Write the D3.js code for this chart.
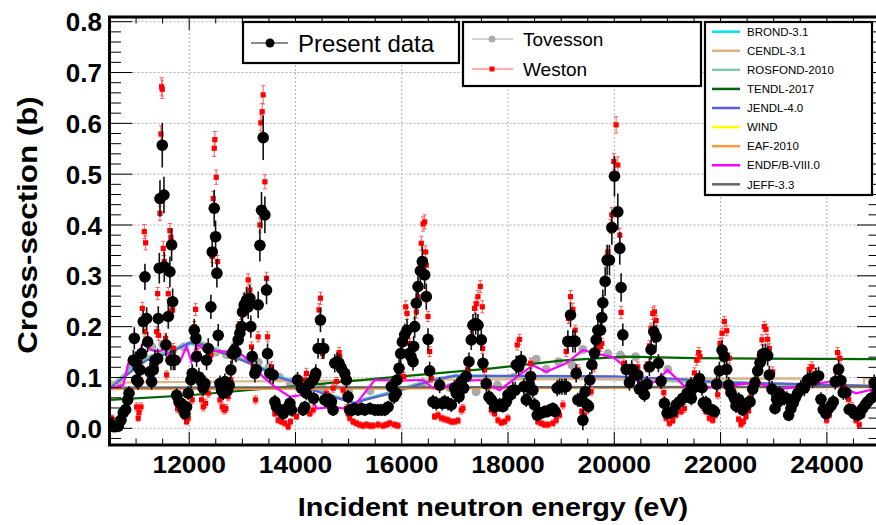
<!DOCTYPE html>
<html>
<head>
<meta charset="UTF-8">
<script src="https://d3js.org/d3.v7.min.js"></script>
<style>
  body { margin: 0; background: #fff; }
  svg text { font-family: "Liberation Sans", Arial, Helvetica, sans-serif; }
</style>
</head>
<body>
<svg id="chart" width="876" height="525"></svg>
<script>
// ---- data ----
// present data: [energy (eV), cross-section (b), error]
const presentData = [
  [10510,0.010,0.010],[10590,0.003,0.010],[10666,0.004,0.012],[10716,0.016,0.010],[10760,0.031,0.012],
  [10804,0.037,0.012],[10842,0.056,0.014],[10867,0.069,0.014],[10948,0.134,0.020],[10967,0.177,0.022],
  [10985,0.131,0.020],[11010,0.095,0.016],[11040,0.092,0.016],[11073,0.115,0.018],[11105,0.147,0.020],
  [11136,0.210,0.022],[11167,0.298,0.026],[11199,0.216,0.022],[11218,0.170,0.020],[11261,0.111,0.018],
  [11293,0.092,0.016],[11324,0.115,0.018],[11355,0.134,0.020],[11406,0.137,0.020],[11418,0.216,0.024],
  [11437,0.315,0.030],[11450,0.452,0.036],[11493,0.557,0.044],[11525,0.459,0.036],[11531,0.318,0.030],
  [11562,0.164,0.022],[11606,0.220,0.024],[11637,0.308,0.030],[11669,0.361,0.032],[11688,0.249,0.026],
  [11656,0.134,0.020],[11700,0.134,0.020],[11731,0.134,0.020],[11763,0.065,0.014],[11807,0.052,0.014],
  [11845,0.049,0.014],[11888,0.039,0.012],[11920,0.029,0.012],[11951,0.042,0.012],[11982,0.069,0.014],
  [12032,0.095,0.016],[12057,0.108,0.018],[12095,0.193,0.022],[12126,0.177,0.022],[12139,0.141,0.020],
  [12183,0.101,0.018],[12233,0.092,0.016],[12264,0.079,0.016],[12296,0.088,0.016],[12327,0.134,0.020],
  [12358,0.157,0.020],[12408,0.239,0.024],[12433,0.347,0.030],[12471,0.433,0.036],[12496,0.377,0.032],
  [12521,0.305,0.028],[12546,0.183,0.022],[12578,0.088,0.016],[12609,0.075,0.016],[12640,0.069,0.014],
  [12672,0.092,0.016],[12722,0.075,0.016],[12753,0.085,0.016],[12784,0.115,0.018],[12809,0.147,0.020],
  [12847,0.154,0.020],[12880,0.150,0.020],[12922,0.174,0.020],[12953,0.187,0.022],[12985,0.200,0.022],
  [13004,0.229,0.024],[13035,0.243,0.024],[13079,0.252,0.026],[13110,0.239,0.024],[13141,0.256,0.026],
  [13160,0.200,0.022],[13185,0.141,0.020],[13236,0.108,0.018],[13265,0.115,0.018],[13298,0.243,0.026],
  [13330,0.360,0.032],[13361,0.429,0.036],[13392,0.572,0.044],[13424,0.420,0.036],[13455,0.272,0.028],
  [13474,0.147,0.020],[13518,0.108,0.018],[13580,0.105,0.018],[13612,0.052,0.014],[13643,0.042,0.014],
  [13705,0.036,0.012],[13768,0.029,0.012],[13831,0.039,0.012],[13894,0.049,0.014],[13925,0.036,0.012],
  [14038,0.095,0.016],[14112,0.079,0.016],[14143,0.036,0.012],[14175,0.042,0.012],[14206,0.069,0.014],
  [14269,0.088,0.016],[14332,0.095,0.016],[14363,0.102,0.018],[14340,0.059,0.014],[14382,0.108,0.018],
  [14426,0.157,0.020],[14470,0.213,0.024],[14507,0.157,0.020],[14532,0.157,0.020],[14551,0.056,0.014],
  [14582,0.056,0.014],[14614,0.052,0.014],[14645,0.056,0.014],[14676,0.052,0.014],[14708,0.036,0.012],
  [14739,0.128,0.018],[14783,0.131,0.018],[14821,0.128,0.018],[14864,0.118,0.018],[14927,0.108,0.018],
  [14958,0.095,0.016],[14990,0.062,0.014],[15021,0.036,0.012],[15071,0.036,0.012],[15115,0.039,0.012],
  [15178,0.036,0.012],[15240,0.039,0.012],[15303,0.036,0.012],[15397,0.039,0.012],[15491,0.036,0.012],
  [15554,0.036,0.012],[15616,0.036,0.012],[15679,0.036,0.012],[15742,0.042,0.012],[15804,0.082,0.016],
  [15855,0.062,0.014],[15898,0.069,0.014],[15911,0.095,0.016],[15949,0.118,0.018],[15980,0.147,0.020],
  [16011,0.170,0.020],[16055,0.184,0.022],[16099,0.193,0.022],[16137,0.147,0.020],[16174,0.141,0.020],
  [16212,0.131,0.018],[16224,0.161,0.020],[16243,0.200,0.022],[16274,0.246,0.024],[16306,0.279,0.026],
  [16350,0.310,0.028],[16387,0.328,0.030],[16431,0.302,0.028],[16462,0.259,0.026],[16494,0.175,0.022],
  [16525,0.113,0.018],[16588,0.052,0.014],[16650,0.049,0.014],[16713,0.085,0.016],[16763,0.049,0.014],
  [16807,0.052,0.014],[16870,0.049,0.014],[16932,0.046,0.014],[16995,0.079,0.016],[17026,0.069,0.014],
  [17077,0.062,0.014],[17120,0.092,0.016],[17164,0.079,0.016],[17214,0.102,0.018],[17264,0.131,0.018],
  [17308,0.174,0.020],[17340,0.203,0.022],[17390,0.206,0.022],[17434,0.203,0.022],[17497,0.174,0.020],
  [17528,0.128,0.018],[17590,0.088,0.016],[17641,0.062,0.014],[17685,0.056,0.014],[17747,0.042,0.012],
  [17778,0.046,0.014],[17841,0.046,0.014],[17904,0.043,0.012],[17966,0.052,0.014],[17998,0.066,0.014],
  [18048,0.066,0.014],[18092,0.075,0.016],[18135,0.075,0.016],[18154,0.125,0.018],[18198,0.121,0.018],
  [18248,0.134,0.018],[18298,0.082,0.016],[18343,0.056,0.014],[18374,0.082,0.016],[18405,0.085,0.016],
  [18424,0.102,0.018],[18468,0.075,0.016],[18499,0.046,0.014],[18549,0.026,0.012],[18593,0.030,0.012],
  [18624,0.030,0.012],[18687,0.033,0.012],[18737,0.033,0.012],[18781,0.036,0.012],[18844,0.039,0.012],
  [18888,0.033,0.012],[18925,0.079,0.016],[18969,0.082,0.016],[19013,0.082,0.016],[19063,0.082,0.016],
  [19094,0.082,0.016],[19126,0.171,0.022],[19176,0.223,0.024],[19220,0.171,0.022],[19264,0.171,0.022],
  [19282,0.108,0.018],[19314,0.056,0.014],[19351,0.056,0.014],[19389,0.056,0.014],[19408,0.016,0.020],
  [19452,0.072,0.016],[19489,0.046,0.014],[19514,0.043,0.014],[19539,0.095,0.016],[19577,0.125,0.018],
  [19627,0.148,0.020],[19658,0.174,0.020],[19690,0.193,0.022],[19740,0.193,0.022],[19765,0.218,0.024],
  [19784,0.247,0.026],[19828,0.289,0.028],[19865,0.331,0.030],[19909,0.331,0.030],[19953,0.395,0.034],
  [20003,0.496,0.040],[20066,0.426,0.036],[20103,0.354,0.032],[20128,0.277,0.028],[20160,0.184,0.022],
  [20223,0.116,0.018],[20285,0.090,0.016],[20329,0.116,0.018],[20379,0.108,0.018],[20442,0.105,0.018],
  [20473,0.077,0.016],[20517,0.081,0.016],[20567,0.066,0.014],[20617,0.087,0.016],[20661,0.121,0.018],
  [20692,0.155,0.020],[20743,0.190,0.022],[20787,0.180,0.022],[20830,0.128,0.018],[20880,0.093,0.016],
  [20943,0.049,0.014],[20993,0.030,0.012],[21037,0.030,0.012],[21100,0.033,0.012],[21162,0.046,0.014],
  [21225,0.052,0.014],[21288,0.059,0.014],[21369,0.069,0.014],[21444,0.085,0.016],[21450,0.059,0.014],
  [21476,0.079,0.016],[21526,0.082,0.016],[21570,0.092,0.016],[21601,0.098,0.016],[21651,0.080,0.016],
  [21676,0.050,0.014],[21726,0.050,0.014],[21758,0.039,0.012],[21802,0.037,0.012],[21852,0.036,0.012],
  [21883,0.033,0.012],[21927,0.087,0.016],[21977,0.113,0.018],[22027,0.154,0.020],[22071,0.141,0.020],
  [22115,0.116,0.018],[22152,0.085,0.016],[22196,0.070,0.014],[22259,0.059,0.014],[22290,0.044,0.014],
  [22340,0.057,0.014],[22384,0.041,0.012],[22416,0.036,0.012],[22466,0.044,0.014],[22510,0.050,0.014],
  [22554,0.052,0.014],[22604,0.077,0.016],[22648,0.090,0.016],[22698,0.113,0.018],[22742,0.129,0.018],
  [22792,0.146,0.020],[22842,0.147,0.020],[22886,0.143,0.020],[22917,0.105,0.018],[22967,0.077,0.016],
  [23024,0.039,0.012],[23055,0.057,0.014],[23105,0.069,0.014],[23136,0.056,0.014],[23199,0.059,0.014],
  [23243,0.059,0.014],[23281,0.026,0.012],[23324,0.039,0.012],[23368,0.050,0.014],[23406,0.060,0.014],
  [23450,0.069,0.014],[23512,0.079,0.016],[23575,0.079,0.016],[23638,0.095,0.016],[23682,0.098,0.016],
  [23732,0.095,0.016],[23794,0.101,0.018],[23845,0.103,0.018],[23889,0.057,0.014],[23932,0.037,0.012],
  [23982,0.029,0.012],[24033,0.039,0.012],[24077,0.044,0.014],[24120,0.052,0.014],[24158,0.092,0.016],
  [24221,0.116,0.018],[24265,0.094,0.016],[24308,0.070,0.014],[24358,0.070,0.014],[24421,0.037,0.012],
  [24471,0.036,0.012],[24515,0.029,0.012],[24578,0.026,0.012],[24622,0.029,0.012],[24672,0.039,0.012],
  [24722,0.046,0.014],[24766,0.052,0.014],[24829,0.059,0.014],[24891,0.090,0.016],[24950,0.075,0.016]
];

// Weston: [energy, cross-section, error]
const westonData = [
  [10510,0.013,0.006],[10540,0.020,0.006],[10640,0.006,0.006],[11010,0.042,0.008],[11040,0.020,0.006],
  [11055,0.031,0.008],[11092,0.042,0.008],[11117,0.236,0.012],[11155,0.387,0.014],[11180,0.365,0.014],
  [11168,0.190,0.010],[11230,0.170,0.010],[11293,0.105,0.008],[11355,0.131,0.010],[11387,0.190,0.010],
  [11406,0.265,0.012],[11425,0.183,0.010],[11450,0.423,0.014],[11468,0.579,0.016],[11481,0.672,0.018],
  [11493,0.667,0.018],[11512,0.354,0.014],[11531,0.328,0.012],[11556,0.177,0.010],[11575,0.105,0.008],
  [11606,0.265,0.012],[11637,0.389,0.014],[11656,0.376,0.014],[11669,0.231,0.012],[11688,0.233,0.012],
  [11700,0.157,0.010],[11731,0.062,0.008],[11781,0.039,0.008],[11825,0.036,0.008],[11907,0.023,0.006],
  [11951,0.013,0.006],[11982,0.020,0.006],[12057,0.056,0.008],[12095,0.200,0.010],[12120,0.234,0.012],
  [12170,0.147,0.010],[12233,0.056,0.008],[12264,0.042,0.008],[12308,0.049,0.008],[12358,0.069,0.008],
  [12408,0.144,0.010],[12433,0.338,0.012],[12452,0.452,0.014],[12471,0.551,0.016],[12483,0.568,0.016],
  [12508,0.494,0.014],[12534,0.328,0.012],[12578,0.056,0.008],[12621,0.042,0.008],[12659,0.036,0.008],
  [12690,0.039,0.008],[12734,0.062,0.008],[12784,0.095,0.008],[12828,0.151,0.010],[12872,0.170,0.010],
  [12922,0.200,0.010],[12972,0.226,0.012],[13035,0.252,0.012],[13079,0.256,0.012],[13110,0.292,0.012],
  [13141,0.272,0.012],[13173,0.160,0.010],[13204,0.121,0.010],[13248,0.056,0.008],[13298,0.180,0.010],
  [13330,0.400,0.014],[13348,0.601,0.016],[13373,0.623,0.016],[13392,0.656,0.018],[13424,0.485,0.014],
  [13455,0.295,0.012],[13474,0.180,0.010],[13549,0.121,0.010],[13612,0.029,0.006],[13674,0.016,0.006],
  [13737,0.013,0.006],[13799,0.010,0.006],[13862,0.003,0.006],[13906,0.013,0.006],[13956,0.029,0.006],
  [14019,0.023,0.006],[14144,0.036,0.008],[14175,0.095,0.008],[14206,0.108,0.010],[14269,0.029,0.006],
  [14332,0.036,0.008],[14444,0.233,0.012],[14470,0.256,0.012],[14507,0.147,0.010],[14582,0.069,0.008],
  [14708,0.079,0.008],[14770,0.092,0.008],[14821,0.149,0.010],[14833,0.141,0.010],[14896,0.075,0.008],
  [14958,0.039,0.008],[14990,0.029,0.006],[15021,0.020,0.006],[15084,0.013,0.006],[15146,0.010,0.006],
  [15209,0.007,0.006],[15272,0.005,0.006],[15334,0.007,0.006],[15397,0.005,0.006],[15460,0.005,0.006],
  [15554,0.007,0.006],[15648,0.005,0.006],[15711,0.007,0.006],[15773,0.010,0.006],[15867,0.007,0.006],
  [15930,0.005,0.006],[15992,0.102,0.008],[16036,0.102,0.008],[16074,0.239,0.012],[16099,0.226,0.012],
  [16149,0.167,0.010],[16212,0.157,0.010],[16243,0.206,0.010],[16274,0.229,0.012],[16306,0.259,0.012],
  [16337,0.306,0.012],[16368,0.364,0.014],[16400,0.402,0.014],[16431,0.406,0.014],[16450,0.347,0.012],
  [16462,0.321,0.012],[16494,0.220,0.010],[16525,0.151,0.010],[16557,0.098,0.008],[16619,0.023,0.006],
  [16682,0.026,0.006],[16745,0.020,0.006],[16807,0.018,0.006],[16870,0.016,0.006],[16932,0.013,0.006],
  [16995,0.013,0.006],[17058,0.015,0.006],[17120,0.036,0.008],[17152,0.039,0.008],[17246,0.115,0.010],
  [17308,0.180,0.010],[17371,0.236,0.012],[17402,0.245,0.012],[17434,0.259,0.012],[17478,0.279,0.012],
  [17516,0.239,0.012],[17522,0.157,0.010],[17559,0.115,0.010],[17622,0.082,0.008],[17685,0.036,0.008],
  [17747,0.029,0.006],[17810,0.016,0.006],[17873,0.011,0.006],[17935,0.013,0.006],[17998,0.020,0.006],
  [18060,0.062,0.008],[18173,0.164,0.010],[18217,0.175,0.010],[18261,0.125,0.010],[18342,0.062,0.008],
  [18424,0.128,0.010],[18449,0.092,0.008],[18499,0.046,0.008],[18561,0.013,0.006],[18624,0.010,0.006],
  [18687,0.007,0.006],[18750,0.007,0.006],[18844,0.010,0.006],[18906,0.016,0.006],[18969,0.026,0.006],
  [19032,0.046,0.008],[19094,0.151,0.010],[19138,0.216,0.010],[19176,0.259,0.012],[19220,0.234,0.012],
  [19264,0.193,0.010],[19314,0.115,0.010],[19389,0.033,0.006],[19439,0.026,0.006],[19502,0.043,0.008],
  [19564,0.072,0.008],[19627,0.121,0.010],[19690,0.157,0.010],[19740,0.161,0.010],[19765,0.167,0.010],
  [19802,0.249,0.012],[19847,0.331,0.012],[19878,0.347,0.012],[19928,0.397,0.014],[19953,0.420,0.014],
  [19991,0.525,0.016],[20034,0.597,0.016],[20066,0.518,0.016],[20103,0.380,0.014],[20128,0.228,0.012],
  [20179,0.128,0.010],[20223,0.116,0.010],[20317,0.116,0.010],[20392,0.108,0.010],[20442,0.121,0.010],
  [20505,0.081,0.008],[20598,0.121,0.010],[20661,0.162,0.010],[20692,0.197,0.010],[20724,0.226,0.012],
  [20755,0.229,0.012],[20787,0.212,0.010],[20931,0.070,0.008],[20975,0.020,0.006],[21037,0.010,0.006],
  [21100,0.015,0.006],[21162,0.026,0.006],[21256,0.033,0.006],[21319,0.039,0.008],[21507,0.109,0.010],
  [21551,0.134,0.010],[21588,0.149,0.010],[21613,0.141,0.010],[21664,0.043,0.008],[21726,0.033,0.006],
  [21789,0.020,0.006],[21852,0.016,0.006],[21902,0.026,0.006],[21946,0.066,0.008],[21990,0.167,0.010],
  [22027,0.187,0.010],[22071,0.210,0.010],[22115,0.192,0.010],[22165,0.138,0.010],[22228,0.077,0.008],
  [22278,0.044,0.008],[22340,0.018,0.006],[22384,0.008,0.006],[22428,0.013,0.006],[22478,0.023,0.006],
  [22528,0.035,0.006],[22572,0.062,0.008],[22666,0.111,0.010],[22729,0.141,0.010],[22779,0.174,0.010],
  [22823,0.200,0.010],[22855,0.195,0.010],[22886,0.175,0.010],[22917,0.157,0.010],[22980,0.111,0.010],
  [23074,0.069,0.008],[23136,0.066,0.008],[23218,0.062,0.008],[23281,0.039,0.008],[23324,0.049,0.008],
  [23406,0.062,0.008],[23450,0.072,0.008],[23544,0.085,0.008],[23669,0.116,0.010],[23719,0.121,0.010],
  [23782,0.108,0.010],[23889,0.056,0.008],[23951,0.029,0.006],[23995,0.016,0.006],[24045,0.026,0.006],
  [24170,0.113,0.010],[24202,0.149,0.010],[24246,0.138,0.010],[24308,0.085,0.008],[24409,0.057,0.008],
  [24471,0.043,0.008],[24546,0.016,0.006],[24609,0.007,0.006],[24672,0.026,0.006],[24735,0.043,0.008],
  [24797,0.056,0.008],[24891,0.072,0.008]
];

// Tovesson: [energy, cross-section]
const tovessonData = [
  [10520,0.085],[10700,0.090],[10900,0.120],[11100,0.150],[11300,0.160],[11500,0.165],[11700,0.155],
  [11900,0.160],[12100,0.170],[12300,0.160],[12500,0.150],[12700,0.145],[12900,0.140],[13100,0.135],
  [13300,0.130],[13500,0.120],[13700,0.100],[13900,0.090],[14100,0.085],[14500,0.080],[15000,0.075],
  [15400,0.074],[15900,0.077],[16400,0.090],[16900,0.080],[17400,0.072],[17800,0.085],[18100,0.100],
  [18530,0.136],[18718,0.116],[18950,0.131],[19200,0.125],[19408,0.155],[19650,0.148],[19878,0.147],
  [20115,0.144],[20400,0.141],[21006,0.116]
];

// evaluated libraries
const smoothE   = [10500,10900,11200,11600,12000,12200,12500,12900,13300,13700,14000,14500,14900,
                   15100,15300,15800,16200,16600,17000,17600,18500,20000,21200,22000,23100,25000];
const brondXS   = [0.080,0.118,0.138,0.150,0.165,0.168,0.155,0.140,0.123,0.102,0.092,0.072,0.058,
                   0.050,0.058,0.072,0.085,0.097,0.104,0.103,0.101,0.098,0.094,0.092,0.087,0.083];
const rosfondXS = [0.082,0.115,0.140,0.152,0.168,0.170,0.156,0.140,0.120,0.100,0.090,0.070,0.057,
                   0.050,0.057,0.070,0.084,0.096,0.103,0.102,0.100,0.097,0.093,0.090,0.087,0.083];
const jendlXS   = [0.079,0.111,0.134,0.147,0.168,0.166,0.152,0.138,0.121,0.100,0.090,0.069,0.056,
                   0.049,0.056,0.069,0.082,0.095,0.103,0.103,0.103,0.102,0.097,0.090,0.088,0.083];
const windXS    = [0.079,0.111,0.134,0.147,0.166,0.165,0.151,0.137,0.120,0.100,0.090,0.069,0.056,
                   0.049,0.056,0.069,0.082,0.095,0.102,0.102,0.101,0.099,0.095,0.092,0.088,0.083];
const tendlE    = [10500,12000,14000,16000,17700,19000,20200,21500,25000];
const tendlXS   = [0.056,0.065,0.083,0.102,0.118,0.133,0.141,0.138,0.136];
const cendlE    = [10500,17000,23700,23700,24700,24700,24800,24800,25000];
const cendlXS   = [0.090,0.096,0.098,0.082,0.082,0.098,0.098,0.082,0.082];
const eafE      = [10500,25000];
const eafXS     = [0.077,0.081];
const jeffE     = [10500,25000];
const jeffXS    = [0.080,0.082];
const endfE     = [10500,10760,10854,11073,11136,11292,11418,11543,11700,11825,11950,12044,12138,
                   12327,12640,12953,13141,13392,13643,13893,14144,14270,14395,14708,14896,15147,
                   15491,16000,16400,16588,16800,17026,17465,17841,18217,18468,18718,19094,19408,
                   19658,19972,20160,20400,20600,20800,21000,21300,21450,21850,22250,22650,23100,
                   23500,24050,24300,24550,25000];
const endfXS    = [0.079,0.085,0.128,0.154,0.167,0.154,0.151,0.157,0.134,0.131,0.161,0.131,0.164,
                   0.154,0.151,0.148,0.131,0.101,0.079,0.062,0.066,0.072,0.039,0.042,0.039,0.049,
                   0.095,0.094,0.095,0.079,0.080,0.092,0.095,0.075,0.105,0.124,0.111,0.128,0.154,
                   0.147,0.140,0.125,0.095,0.088,0.092,0.115,0.085,0.070,0.082,0.085,0.090,0.077,
                   0.082,0.092,0.080,0.069,0.080];

// legend order; "z" is the drawing order inside the frame
const libraries = [
  {name: "BROND-3.1",     color: "#00e5ee", e: smoothE, xs: brondXS,   z: 1},
  {name: "CENDL-3.1",     color: "#dcb483", e: cendlE,  xs: cendlXS,   z: 3},
  {name: "ROSFOND-2010",  color: "#88c4a4", e: smoothE, xs: rosfondXS, z: 2},
  {name: "TENDL-2017",    color: "#006400", e: tendlE,  xs: tendlXS,   z: 4},
  {name: "JENDL-4.0",     color: "#5c5ce0", e: smoothE, xs: jendlXS,   z: 5},
  {name: "WIND",          color: "#ffff00", e: smoothE, xs: windXS,    z: 0},
  {name: "EAF-2010",      color: "#ff9a3c", e: eafE,    xs: eafXS,     z: 6},
  {name: "ENDF/B-VIII.0", color: "#ff00ff", e: endfE,   xs: endfXS,    z: 8},
  {name: "JEFF-3.3",      color: "#666666", e: jeffE,   xs: jeffXS,    z: 7}
];

const xTicks = [12000, 14000, 16000, 18000, 20000, 22000, 24000];
const yTicks = [0.0, 0.1, 0.2, 0.3, 0.4, 0.5, 0.6, 0.7, 0.8];

// ---- layout ----
const svg = d3.select("#chart");
const padL = 109.5, padR = 880, padT = 17, padB = 445;

const x = d3.scaleLinear().domain([10500, 25000]).range([padL, padR]);
const y = d3.scaleLinear().domain([0, 0.8]).range([428.3, 21.7]);

svg.append("defs").append("clipPath").attr("id", "plotclip")
  .append("rect").attr("x", padL).attr("y", padT).attr("width", padR - padL).attr("height", padB - padT);

// grid
const grid = svg.append("g").attr("stroke", "#a8a8a8").attr("stroke-width", 0.9).attr("stroke-dasharray", "2,2");
xTicks.forEach(t => grid.append("line").attr("x1", x(t)).attr("x2", x(t)).attr("y1", padT).attr("y2", padB));
yTicks.forEach(t => grid.append("line").attr("x1", padL).attr("x2", padR).attr("y1", y(t)).attr("y2", y(t)));

const plot = svg.append("g").attr("clip-path", "url(#plotclip)");

// Tovesson markers
plot.append("g").selectAll("circle").data(tovessonData).join("circle")
  .attr("cx", d => x(d[0])).attr("cy", d => y(d[1])).attr("r", 4.5).attr("fill", "#aaaaaa");

// library curves
const line = d3.line();
libraries.slice().sort((a, b) => a.z - b.z).forEach(lib => {
  const pts = lib.e.map((e, i) => [x(e), y(lib.xs[i])]);
  plot.append("path").attr("d", line(pts)).attr("fill", "none")
    .attr("stroke", lib.color).attr("stroke-width", lib.name === "ROSFOND-2010" ? 3 : 2.2);
});

// Weston
const wes = plot.append("g");
wes.selectAll("line.err").data(westonData).join("line").attr("class", "err")
  .attr("x1", d => x(d[0])).attr("x2", d => x(d[0]))
  .attr("y1", d => y(d[1] - d[2])).attr("y2", d => y(d[1] + d[2]))
  .attr("stroke", "#ff5a5a").attr("stroke-width", 1);
wes.selectAll("path.cap").data(westonData).join("path").attr("class", "cap")
  .attr("d", d => `M${x(d[0]) - 2},${y(d[1] - d[2])}h4M${x(d[0]) - 2},${y(d[1] + d[2])}h4`)
  .attr("stroke", "#ff5a5a").attr("stroke-width", 1);
wes.selectAll("rect").data(westonData).join("rect")
  .attr("x", d => x(d[0]) - 2.6).attr("y", d => y(d[1]) - 2.6)
  .attr("width", 5.2).attr("height", 5.2).attr("fill", "#ff0000");

// present data
const pres = plot.append("g");
pres.selectAll("line").data(presentData).join("line")
  .attr("x1", d => x(d[0])).attr("x2", d => x(d[0]))
  .attr("y1", d => y(d[1] - d[2])).attr("y2", d => y(d[1] + d[2]))
  .attr("stroke", "#111").attr("stroke-width", 1.6);
pres.selectAll("circle").data(presentData).join("circle")
  .attr("cx", d => x(d[0])).attr("cy", d => y(d[1])).attr("r", 5.8).attr("fill", "#000");

// ticks (all four sides, pointing inward)
const ticks = svg.append("g").attr("stroke", "#000").attr("stroke-width", 1);
d3.range(10500, 25001, 500).forEach(t => {
  const len = t % 2000 === 0 ? 13 : 6.5;
  ticks.append("line").attr("x1", x(t)).attr("x2", x(t)).attr("y1", padB).attr("y2", padB - len);
  ticks.append("line").attr("x1", x(t)).attr("x2", x(t)).attr("y1", padT).attr("y2", padT + len);
});
d3.range(-1, 41).map(i => i * 0.02).forEach((t, i) => {
  const len = (i - 1) % 5 === 0 ? 23 : 11.5;
  ticks.append("line").attr("x1", padL).attr("x2", padL + len).attr("y1", y(t)).attr("y2", y(t));
  ticks.append("line").attr("x1", padR).attr("x2", padR - len).attr("y1", y(t)).attr("y2", y(t));
});

// frame
svg.append("rect").attr("x", padL).attr("y", padT).attr("width", padR - padL).attr("height", padB - padT)
  .attr("fill", "none").attr("stroke", "#000").attr("stroke-width", 3);

// tick labels
svg.append("g").selectAll("text").data(yTicks).join("text")
  .attr("x", 102).attr("y", d => y(d) + 9.5).attr("text-anchor", "end")
  .attr("font-size", 26).attr("font-weight", "bold").text(d => d.toFixed(1));
svg.append("g").selectAll("text").data(xTicks).join("text")
  .attr("transform", d => `translate(${x(d)},473) scale(1.1,1)`).attr("text-anchor", "middle")
  .attr("font-size", 24).attr("font-weight", "bold").text(d => d);

// axis titles
svg.append("text").attr("transform", "translate(493,516) scale(1.13,1)").attr("text-anchor", "middle")
  .attr("font-size", 25.5).attr("font-weight", "bold").text("Incident neutron energy (eV)");
svg.append("text").attr("transform", "translate(37,225) rotate(-90) scale(1.1,1)").attr("text-anchor", "middle")
  .attr("font-size", 28.5).attr("font-weight", "bold").text("Cross-section (b)");

// legend: present data
const lg1 = svg.append("g");
lg1.append("rect").attr("x", 243).attr("y", 22).attr("width", 216).attr("height", 41)
  .attr("fill", "#fff").attr("stroke", "#000").attr("stroke-width", 2.2);
lg1.append("line").attr("x1", 251).attr("x2", 288).attr("y1", 43).attr("y2", 43)
  .attr("stroke", "#666").attr("stroke-width", 1.5);
lg1.append("circle").attr("cx", 270).attr("cy", 43).attr("r", 4.5).attr("fill", "#000");
lg1.append("text").attr("x", 298).attr("y", 51.5).attr("font-size", 24).text("Present data");

// legend: other measurements
const lg2 = svg.append("g");
lg2.append("rect").attr("x", 463).attr("y", 22).attr("width", 238).attr("height", 64)
  .attr("fill", "#fff").attr("stroke", "#000").attr("stroke-width", 2.2);
lg2.append("line").attr("x1", 472).attr("x2", 513).attr("y1", 39).attr("y2", 39)
  .attr("stroke", "#aaaaaa").attr("stroke-width", 1.2);
lg2.append("circle").attr("cx", 492).attr("cy", 39).attr("r", 3.5).attr("fill", "#aaaaaa");
lg2.append("text").attr("x", 523).attr("y", 46).attr("font-size", 19).text("Tovesson");
lg2.append("line").attr("x1", 472).attr("x2", 513).attr("y1", 69).attr("y2", 69)
  .attr("stroke", "#ff5a5a").attr("stroke-width", 1);
lg2.append("rect").attr("x", 489.5).attr("y", 66.5).attr("width", 5).attr("height", 5).attr("fill", "#ff0000");
lg2.append("text").attr("x", 523).attr("y", 76).attr("font-size", 19).text("Weston");

// legend: libraries
const lg3 = svg.append("g");
lg3.append("rect").attr("x", 705).attr("y", 22).attr("width", 167).attr("height", 173)
  .attr("fill", "#fff").attr("stroke", "#000").attr("stroke-width", 2.2);
libraries.forEach((lib, i) => {
  const ly = 31.7 + i * 19.08;
  lg3.append("line").attr("x1", 712).attr("x2", 740).attr("y1", ly).attr("y2", ly)
    .attr("stroke", lib.color).attr("stroke-width", 2.5);
  lg3.append("text").attr("x", 747).attr("y", ly + 4.2).attr("font-size", 11.5).text(lib.name);
});
</script>
</body>
</html>
